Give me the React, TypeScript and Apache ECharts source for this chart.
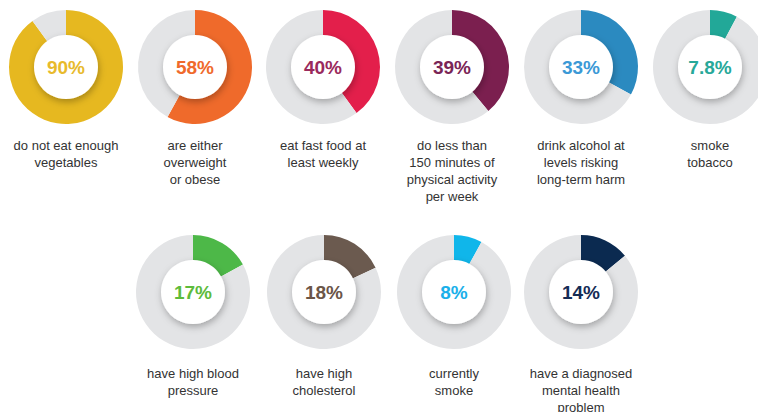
import React, { useEffect, useRef } from "react";
import * as echarts from "echarts";

const values = [90, 58, 40, 39, 33, 7.8, 17, 18, 8, 14];
const percentLabels = ["90%", "58%", "40%", "39%", "33%", "7.8%", "17%", "18%", "8%", "14%"];
const descriptions = [
  "do not eat enough\nvegetables",
  "are either\noverweight\nor obese",
  "eat fast food at\nleast weekly",
  "do less than\n150 minutes of\nphysical activity\nper week",
  "drink alcohol at\nlevels risking\nlong-term harm",
  "smoke\ntobacco",
  "have high blood\npressure",
  "have high\ncholesterol",
  "currently\nsmoke",
  "have a diagnosed\nmental health\nproblem",
];
const ringColors = ["#e6b820", "#ef6a2b", "#e31f4b", "#7b1f4f", "#2b8ac0", "#22a898", "#4db848", "#6b5a4f", "#10b6ea", "#0b2a50"];
const textColors = ["#e8ba2c", "#f06a2b", "#9a2a5c", "#7a2556", "#3b99d6", "#27a899", "#5dbb3b", "#6b5547", "#1ab0ea", "#152c55"];

const topXs = [66, 195, 323, 452, 581, 710];
const bottomXs = [193, 324, 454, 581];
const topY = 67;
const bottomY = 292;
const R_OUT = 57;
const R_IN = 31;

export default function App() {
  const ref = useRef<HTMLDivElement>(null);
  useEffect(() => {
    document.body.style.margin = "0";
    const chart = echarts.init(ref.current!, null, { renderer: "svg" });
    const series: any[] = [];
    const graphics: any[] = [];
    values.forEach((v, i) => {
      const top = i < 6;
      const cx = top ? topXs[i] : bottomXs[i - 6];
      const cy = top ? topY : bottomY;
      series.push({
        type: "pie",
        silent: true,
        center: [cx, cy],
        radius: [R_IN, R_OUT],
        startAngle: 90,
        clockwise: true,
        label: { show: false },
        labelLine: { show: false },
        data: [
          { value: v, itemStyle: { color: ringColors[i] } },
          { value: 100 - v, itemStyle: { color: "#e3e4e6" } },
        ],
      });
      series.push({
        type: "pie",
        silent: true,
        center: [cx, cy],
        radius: [0, R_IN + 1],
        label: {
          show: true,
          position: "center",
          formatter: percentLabels[i],
          color: textColors[i],
          fontFamily: "Liberation Sans",
          fontWeight: "bold",
          fontSize: 19,
        },
        labelLine: { show: false },
        data: [
          {
            value: 1,
            itemStyle: {
              color: "#ffffff",
              shadowBlur: 7,
              shadowColor: "rgba(0,0,0,0.28)",
              shadowOffsetX: 1,
              shadowOffsetY: 3,
            },
          },
        ],
      });
      graphics.push({
        type: "text",
        x: cx,
        y: top ? 137 : 365,
        style: {
          text: descriptions[i],
          align: "center",
          verticalAlign: "top",
          fontFamily: "Liberation Sans",
          fontSize: 13,
          lineHeight: 17,
          fill: "#333333",
        },
      });
    });
    chart.setOption({
      animation: false,
      backgroundColor: "#ffffff",
      series,
      graphic: graphics,
    });
    return () => chart.dispose();
  }, []);
  return <div ref={ref} style={{ width: 758, height: 412 }} />;
}
